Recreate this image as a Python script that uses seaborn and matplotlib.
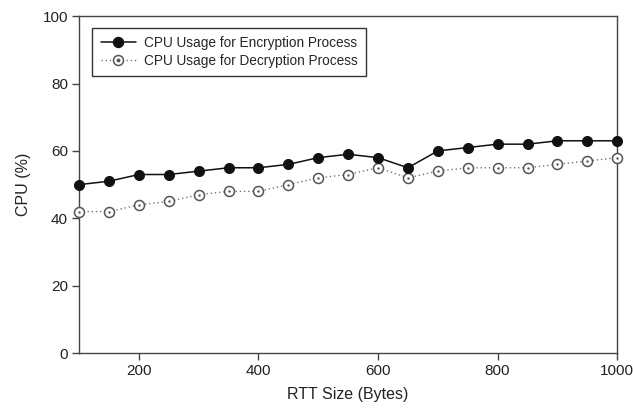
import matplotlib
matplotlib.use("Agg")
import matplotlib.pyplot as plt
from matplotlib.lines import Line2D
from matplotlib.legend_handler import HandlerTuple
import numpy as np
import pandas as pd
import seaborn as sns

rtt_size = [100, 150, 200, 250, 300, 350, 400, 450, 500, 550,
            600, 650, 700, 750, 800, 850, 900, 950, 1000]
cpu_encryption = [50, 51, 53, 53, 54, 55, 55, 56, 58, 59,
                  58, 55, 60, 61, 62, 62, 63, 63, 63]
cpu_decryption = [42, 42, 44, 45, 47, 48, 48, 50, 52, 53,
                  55, 52, 54, 55, 55, 55, 56, 57, 58]
label_enc = "CPU Usage for Encryption Process"
label_dec = "CPU Usage for Decryption Process"

df = pd.DataFrame({"rtt": rtt_size, "enc": cpu_encryption, "dec": cpu_decryption})

sns.set_theme(style="ticks")
plt.rcParams["font.family"] = ["Liberation Sans", "DejaVu Sans"]

fig = plt.figure(figsize=(6.33, 4.13), dpi=100)
ax = fig.add_axes([0.125, 0.145, 0.85, 0.816])

axis_col = "#444444"
dec_col = "#555555"
msize = 7.2

sns.lineplot(data=df, x="rtt", y="enc", ax=ax, color="#111111", lw=1.1,
             marker="o", markersize=msize, markerfacecolor="#111111",
             markeredgecolor="#111111", clip_on=False, zorder=4)
sns.lineplot(data=df, x="rtt", y="dec", ax=ax, color="#777777", lw=1.0,
             linestyle=(0, (1, 2)), marker="o", markersize=msize,
             markerfacecolor="white", markeredgecolor=dec_col,
             markeredgewidth=1.1, clip_on=False, zorder=3)
sns.scatterplot(data=df, x="rtt", y="dec", ax=ax, color=dec_col, s=3,
                linewidth=0, clip_on=False, zorder=5)

ax.set_xlim(100, 1000)
ax.set_ylim(0, 100)
ax.set_xticks([200, 400, 600, 800, 1000])
ax.set_yticks([0, 20, 40, 60, 80, 100])
ax.set_xlabel("RTT Size (Bytes)", fontsize=11.5, color="#222222", labelpad=6)
ax.set_ylabel("CPU (%)", fontsize=11.5, color="#222222", labelpad=8)

for side in ["left", "right", "top", "bottom"]:
    ax.spines[side].set_visible(True)
    ax.spines[side].set_color(axis_col)
    ax.spines[side].set_linewidth(1.0)
ax.tick_params(axis="both", direction="out", length=5, width=1.0,
               color=axis_col, labelsize=11, labelcolor="#222222", pad=3)
ax.tick_params(top=False, right=False)

h_enc = Line2D([], [], color="#111111", lw=1.1, marker="o", markersize=msize,
               markerfacecolor="#111111", markeredgecolor="#111111")
h_dec_ring = Line2D([], [], color="#777777", lw=1.0, linestyle=(0, (1, 2)),
                    marker="o", markersize=msize, markerfacecolor="white",
                    markeredgecolor=dec_col, markeredgewidth=1.1)
h_dec_dot = Line2D([], [], lw=0, marker="o", markersize=1.8,
                   markerfacecolor=dec_col, markeredgecolor=dec_col)
leg = ax.legend([h_enc, (h_dec_ring, h_dec_dot)], [label_enc, label_dec],
                handler_map={tuple: HandlerTuple(ndivide=1)},
                loc="upper left", bbox_to_anchor=(0.012, 0.985),
                fontsize=9.8, frameon=True, fancybox=False, framealpha=1,
                edgecolor="#333333", handlelength=2.6, handletextpad=0.6,
                borderpad=0.6, labelspacing=0.25)
leg.get_frame().set_linewidth(1.0)

fig.savefig("out.png", dpi=100)
